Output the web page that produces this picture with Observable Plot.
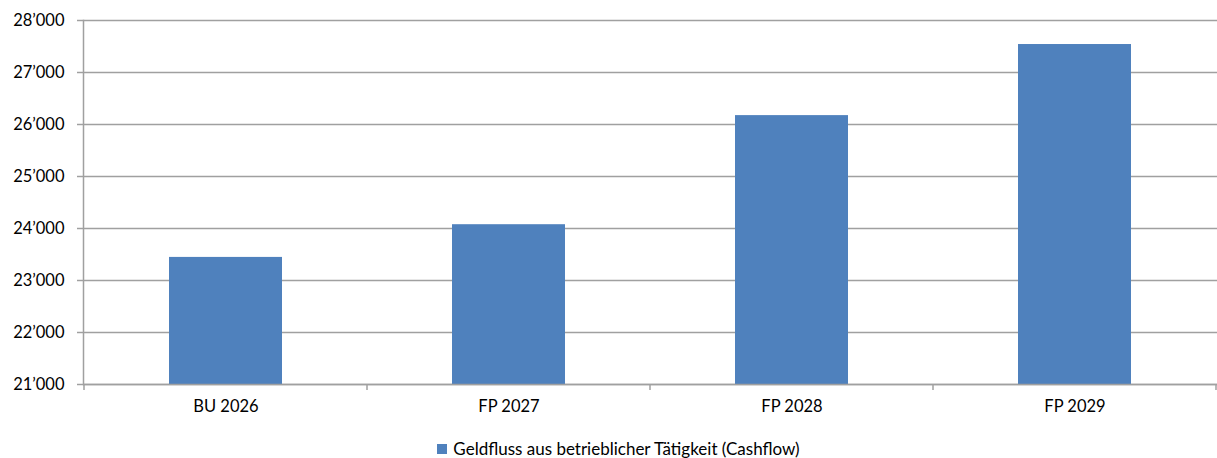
<!DOCTYPE html>
<html>
<head>
<meta charset="utf-8">
<script src="https://cdn.jsdelivr.net/npm/d3@7"></script>
<script src="https://cdn.jsdelivr.net/npm/@observablehq/plot@0.6"></script>
<style>
  body { margin: 0; background: #fff; font-family: Lato, "Open Sans", sans-serif; }
  #chart svg { display: block; }
  .legend { display: flex; justify-content: center; align-items: center; font-size: 17px; color: #000; margin-top: 13px; padding-left: 20px; }
  .legend .sw { width: 10px; height: 10px; background: #4f81bd; margin-right: 6px; }
</style>
</head>
<body>
<div id="chart"></div>
<div class="legend"><span class="sw"></span><span>Geldfluss aus betrieblicher Tätigkeit (Cashflow)</span></div>
<script>
const categories = ["BU 2026", "FP 2027", "FP 2028", "FP 2029"];
const cashflow = [23444, 24073, 26171, 27538];
const seriesName = "Geldfluss aus betrieblicher Tätigkeit (Cashflow)";
const yTicks = [21000, 22000, 23000, 24000, 25000, 26000, 27000, 28000];

const data = categories.map((c, i) => ({ category: c, value: cashflow[i] }));
const fmt = d3.formatLocale({ decimal: ".", thousands: "\u2019", grouping: [3], currency: ["", ""] }).format(",d");
const gridColor = "#a0a0a0";

// category separator ticks at band boundaries, derived from the band scale
function bandSeparators(index, scales, values, dimensions) {
  const x = scales.x;
  const step = x.step ? x.step() : 0;
  const bw = x.bandwidth ? x.bandwidth() : 0;
  const y0 = dimensions.height - dimensions.marginBottom;
  const g = d3.create("svg:g").attr("stroke", gridColor).attr("stroke-width", 1.5);
  const bounds = categories.map(c => x(c) - (step - bw) / 2);
  bounds.push(x(categories[categories.length - 1]) + bw + (step - bw) / 2);
  for (const b of bounds) {
    g.append("line").attr("x1", b).attr("x2", b).attr("y1", y0).attr("y2", y0 + 6);
  }
  return g.node();
}

const chart = Plot.plot({
  width: 1217,
  height: 425,
  marginTop: 20,
  marginBottom: 41,
  marginLeft: 83,
  marginRight: 0,
  style: { fontFamily: "Lato, 'Open Sans', sans-serif", fontSize: "16.5px", color: "#000", background: "#fff" },
  x: { domain: categories, paddingInner: 0.6, paddingOuter: 0.3, label: null },
  y: { domain: [21000, 28000], label: null },
  marks: [
    Plot.gridY(yTicks, { stroke: gridColor, strokeWidth: 1.5, strokeOpacity: 1 }),
    Plot.barY(data, { x: "category", y1: 21000, y2: "value", fill: "#4f81bd" }),
    Plot.ruleY([21000], { stroke: gridColor, strokeWidth: 1.5 }),
    Plot.frame({ anchor: "left", stroke: gridColor, strokeWidth: 1.5 }),
    Plot.axisY(yTicks, { tickFormat: fmt, tickSize: 6, tickPadding: 13, stroke: gridColor, strokeWidth: 1.5, fontSize: 16.5, label: null }),
    Plot.axisX({ tickSize: 0, tickPadding: 16, fontSize: 16.5, label: null }),
    bandSeparators
  ]
});
document.getElementById("chart").appendChild(chart);
</script>
</body>
</html>
